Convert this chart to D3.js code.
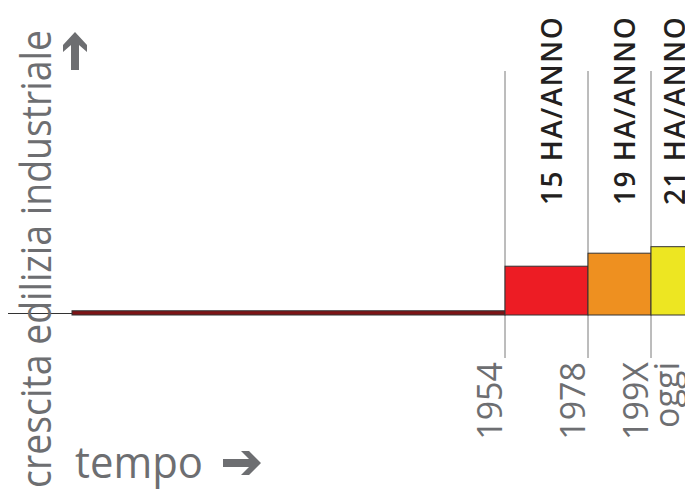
<!DOCTYPE html>
<html>
<head>
<meta charset="utf-8">
<script src="https://cdn.jsdelivr.net/npm/d3@7"></script>
<style>
  html, body { margin: 0; padding: 0; background: #fff; }
  svg { display: block; }
</style>
</head>
<body>
<div id="chart"></div>
<script>
// Periods of industrial land growth and their yearly rate (hectares per year)
const periods = ["prima del 1954", "1954–1978", "1978–199X", "199X–oggi"];
const rates = [1.3, 15, 19, 21];
const rateLabels = ["", "15 HA/ANNO", "19 HA/ANNO", "21 HA/ANNO"];
const barColors = ["#7d1416", "#ed1c24", "#ee9020", "#ede622"];
const boundaryLabels = ["1954", "1978", "199X"];
const endLabel = "oggi";
const yTitle = "crescita edilizia industriale";
const xTitle = "tempo";

const W = 685, H = 489;
const gray = "#6d6e71";
const ink = "#231f20";
const font = "'Open Sans', 'Noto Sans', sans-serif";
const lightWeight = 400;

const svg = d3.select("#chart").append("svg")
  .attr("width", W).attr("height", H);

// Period boundaries: index i marks the start of period i
const x = d3.scaleLinear().domain([0, 1, 2, 3, 4]).range([72, 505, 588, 651, 688]);
const y = d3.scaleLinear().domain([0, 75]).range([315, 71]);

// baseline
svg.append("line")
  .attr("x1", 8).attr("x2", W)
  .attr("y1", y(0) - 1.5).attr("y2", y(0) - 1.5)
  .attr("stroke", "#333").attr("stroke-width", 1);

// boundary markers
const bounds = d3.range(1, periods.length);
svg.append("g").selectAll("line").data(bounds).join("line")
  .attr("x1", d => x(d)).attr("x2", d => x(d))
  .attr("y1", y(75)).attr("y2", y(0) + 43)
  .attr("stroke", "#7a7a7a").attr("stroke-width", 1);

// bars
svg.append("g").selectAll("rect").data(rates).join("rect")
  .attr("x", (d, i) => x(i))
  .attr("width", (d, i) => x(i + 1) - x(i))
  .attr("y", d => y(d))
  .attr("height", d => y(0) - y(d))
  .attr("fill", (d, i) => barColors[i])
  .attr("stroke", "#333").attr("stroke-width", 1);

// rate labels above the bars
const labelled = rateLabels.map((t, i) => ({ t, i })).filter(d => d.t);
svg.append("g").selectAll("text").data(labelled).join("text")
  .attr("transform", d => {
    const cx = (x(d.i) + x(d.i + 1)) / 2 + 15;
    return `translate(${cx},205) rotate(-90)`;
  })
  .attr("font-family", font)
  .attr("font-weight", 600)
  .attr("font-size", 28)
  .attr("letter-spacing", 1.5)
  .attr("fill", ink)
  .text(d => d.t);

// boundary year labels
svg.append("g").selectAll("text").data(boundaryLabels).join("text")
  .attr("transform", (d, i) => `translate(${x(i + 1) - 3},362) rotate(-90)`)
  .attr("text-anchor", "end")
  .attr("font-family", font)
  .attr("font-weight", lightWeight)
  .attr("font-size", 34)
  .attr("fill", gray)
  .text(d => d);

svg.append("text")
  .attr("transform", `translate(${x(3) + 28},362) rotate(-90)`)
  .attr("text-anchor", "end")
  .attr("font-family", font)
  .attr("font-weight", lightWeight)
  .attr("font-size", 34)
  .attr("fill", gray)
  .text(endLabel);

// axis titles
svg.append("text")
  .attr("transform", "translate(51,488) rotate(-90)")
  .attr("font-family", font)
  .attr("font-weight", lightWeight)
  .attr("font-size", 42)
  .attr("textLength", 458)
  .attr("lengthAdjust", "spacingAndGlyphs")
  .attr("fill", gray)
  .text(yTitle);

svg.append("text")
  .attr("x", 75).attr("y", 478)
  .attr("font-family", font)
  .attr("font-weight", lightWeight)
  .attr("font-size", 44)
  .attr("textLength", 128)
  .attr("lengthAdjust", "spacingAndGlyphs")
  .attr("fill", gray)
  .text(xTitle);

// direction arrows
const upArrow = d3.path();
upArrow.moveTo(75, 32);
upArrow.lineTo(87, 45);
upArrow.lineTo(87, 52);
upArrow.lineTo(79, 45);
upArrow.lineTo(79, 70);
upArrow.lineTo(71, 70);
upArrow.lineTo(71, 45);
upArrow.lineTo(63, 52);
upArrow.lineTo(63, 45);
upArrow.closePath();
svg.append("path").attr("d", upArrow.toString()).attr("fill", gray);

const rightArrow = d3.path();
rightArrow.moveTo(261, 463);
rightArrow.lineTo(249, 475);
rightArrow.lineTo(241, 475);
rightArrow.lineTo(249, 467);
rightArrow.lineTo(223, 467);
rightArrow.lineTo(223, 459);
rightArrow.lineTo(249, 459);
rightArrow.lineTo(241, 451);
rightArrow.lineTo(249, 451);
rightArrow.closePath();
svg.append("path").attr("d", rightArrow.toString()).attr("fill", gray);
</script>
</body>
</html>
